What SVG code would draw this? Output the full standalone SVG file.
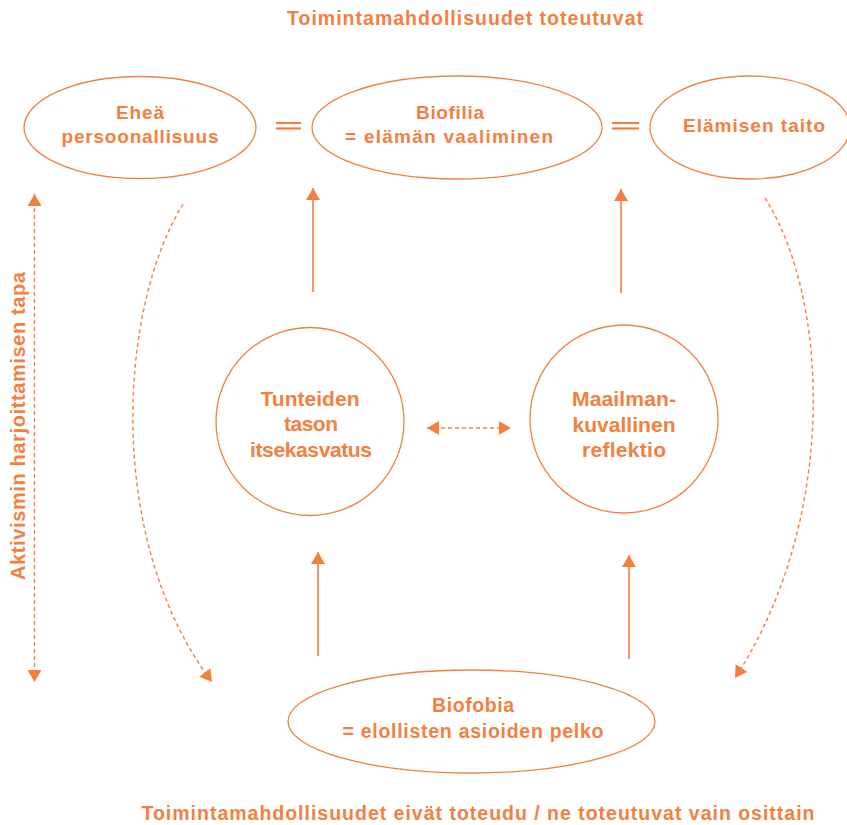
<svg xmlns="http://www.w3.org/2000/svg" width="847" height="825" viewBox="0 0 847 825">
<defs>
<style>
text{font-family:"Liberation Sans",Arial,sans-serif;font-weight:700;fill:#F3803E;text-anchor:middle}
.shape{fill:none;stroke:#F3803E;stroke-width:1.3}
.solid{fill:none;stroke:#F3803E;stroke-width:1.6}
.dash{fill:none;stroke:#F3803E;stroke-width:1.4;stroke-dasharray:4 3}
.eq{stroke:#F3803E;stroke-width:2.2}
.t18{font-size:19px}
.t19{font-size:19.5px}
.t21{font-size:21px}
</style>
<marker id="ah" viewBox="0 0 12 14" refX="12" refY="7" markerWidth="12" markerHeight="14" markerUnits="userSpaceOnUse" orient="auto-start-reverse">
<path d="M0,0 L12,7 L0,14 z" fill="#F3803E"/>
</marker>
</defs>

<text class="t19" x="465" y="25" textLength="356">Toimintamahdollisuudet toteutuvat</text>
<text class="t19" x="478" y="820" textLength="673">Toimintamahdollisuudet eivät toteudu / ne toteutuvat vain osittain</text>
<text transform="translate(25,426) rotate(-90)" x="0" y="0" textLength="308" style="font-size:20px">Aktivismin harjoittamisen tapa</text>

<g id="n-ehea">
<ellipse class="shape" cx="140" cy="127.5" rx="116" ry="51"/>
<text class="t18" x="140" y="119" textLength="48">Eheä</text>
<text class="t18" x="140" y="143" textLength="157">persoonallisuus</text>
</g>
<g id="n-biofilia">
<ellipse class="shape" cx="457" cy="127.5" rx="145" ry="51.5"/>
<text class="t18" x="450" y="119" textLength="68">Biofilia</text>
<text class="t18" x="449" y="143" textLength="208">= elämän vaaliminen</text>
</g>
<g id="n-elamisen">
<ellipse class="shape" cx="750" cy="127.5" rx="100" ry="51.5"/>
<text class="t18" x="754" y="132" textLength="142">Elämisen taito</text>
</g>
<g id="n-tunteiden">
<circle class="shape" cx="310" cy="421.5" r="94"/>
<text class="t21" x="310" y="406" textLength="99">Tunteiden</text>
<text class="t21" x="311" y="431" textLength="54">tason</text>
<text class="t21" x="311" y="457" textLength="122">itsekasvatus</text>
</g>
<g id="n-maailman">
<circle class="shape" cx="624" cy="419" r="94"/>
<text class="t21" x="624" y="406" textLength="104">Maailman-</text>
<text class="t21" x="624" y="432" textLength="103">kuvallinen</text>
<text class="t21" x="624" y="457" textLength="84">reflektio</text>
</g>
<g id="n-biofobia">
<ellipse class="shape" cx="471.5" cy="721.5" rx="183.5" ry="51.5"/>
<text class="t19" x="473" y="712" textLength="82">Biofobia</text>
<text class="t19" x="473" y="738" textLength="261">= elollisten asioiden pelko</text>
</g>

<g id="connectors">
<line class="eq" x1="276" y1="123" x2="301" y2="123"/>
<line class="eq" x1="276" y1="128.5" x2="301" y2="128.5"/>
<line class="eq" x1="612" y1="123" x2="639" y2="123"/>
<line class="eq" x1="612" y1="128.5" x2="639" y2="128.5"/>

<line class="solid" x1="313" y1="292" x2="313" y2="188" marker-end="url(#ah)"/>
<line class="solid" x1="621" y1="293" x2="621" y2="189" marker-end="url(#ah)"/>
<line class="solid" x1="318" y1="656" x2="318" y2="552" marker-end="url(#ah)"/>
<line class="solid" x1="629" y1="659" x2="629" y2="555" marker-end="url(#ah)"/>

<line class="dash" x1="427" y1="428" x2="511" y2="428" marker-start="url(#ah)" marker-end="url(#ah)"/>
<line class="dash" x1="34.5" y1="194" x2="34.5" y2="682" marker-start="url(#ah)" marker-end="url(#ah)"/>

<path class="dash" d="M183,204 C118,310 105,540 212,682" marker-end="url(#ah)"/>
<path class="dash" d="M765,198 C830,300 838,520 735,678" marker-end="url(#ah)"/>
</g>
</svg>
